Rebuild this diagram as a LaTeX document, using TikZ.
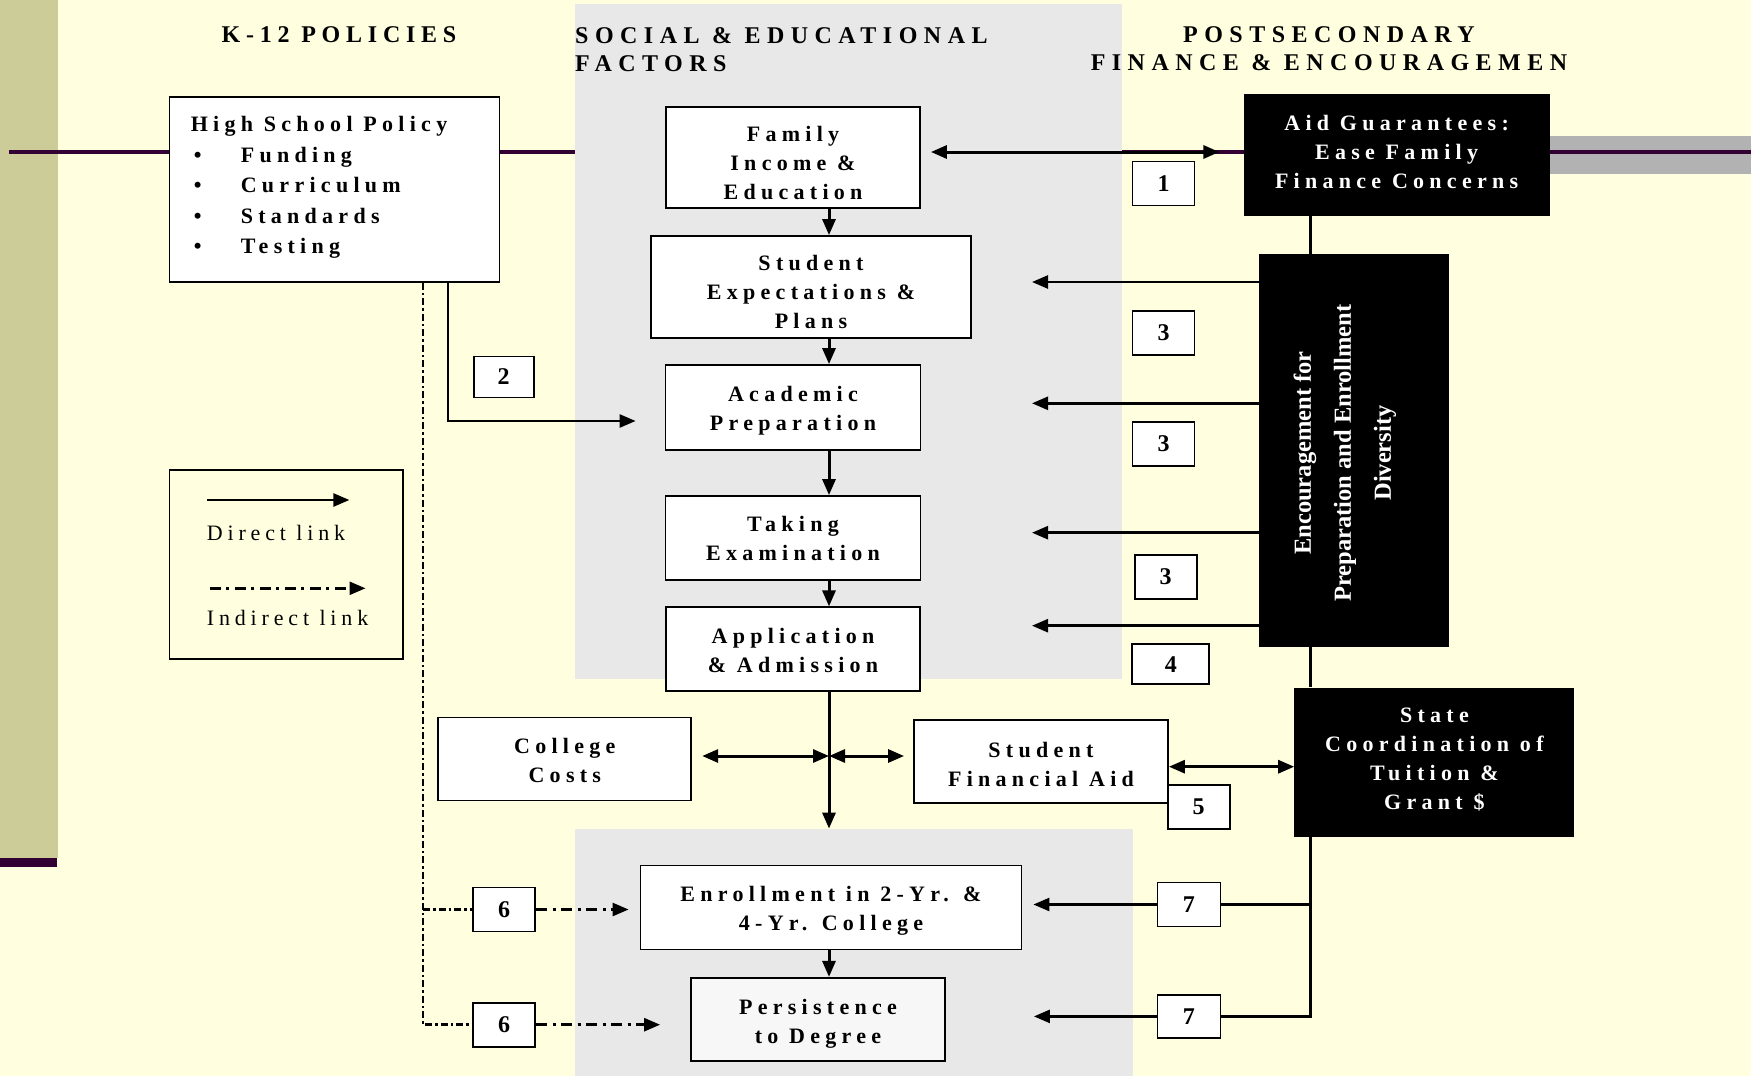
\documentclass[tikz,border=0pt]{standalone}
\usepackage{fontspec}
\setmainfont{Liberation Serif}
\newfontfamily\spfont[LetterSpace=24]{Liberation Serif}
\newfontfamily\hdfont[LetterSpace=27]{Liberation Serif}
\newfontfamily\lgfont[LetterSpace=22]{Liberation Serif}
\usetikzlibrary{arrows.meta}
\definecolor{bgyellow}{RGB}{255,255,224}
\definecolor{olivebar}{RGB}{204,204,153}
\definecolor{purpleline}{RGB}{51,0,51}
\definecolor{panelgray}{RGB}{232,232,232}
\definecolor{bandgray}{RGB}{178,178,178}
\definecolor{pergray}{RGB}{247,247,247}
\newcommand{\downby}[1]{\rule{0pt}{#1}}
\newcommand{\upby}[1]{\rule[-#1]{0pt}{0pt}}
\tikzset{
 box/.style={draw, line width=1.8pt, fill=white, inner sep=0pt, align=center,
   font=\spfont\bfseries\fontsize{22}{29}\selectfont},
 blk/.style={fill=black, text=white, inner sep=0pt, align=center,
   font=\spfont\bfseries\fontsize{22}{29}\selectfont},
 num/.style={draw, line width=1.8pt, fill=white, inner sep=0pt, minimum width=62pt,
   minimum height=44pt, font=\bfseries\fontsize{24}{24}\selectfont},
 head/.style={inner sep=0pt, font=\hdfont\bfseries\fontsize{24}{28}\selectfont},
 lgtext/.style={inner sep=0pt, font=\lgfont\fontsize{22}{26}\selectfont},
 arr/.style={line width=3pt, -{Triangle[length=16pt,width=13pt]}},
 arrE/.style={line width=2.5pt, -{Triangle[length=16pt,width=13pt]}},
 dbl/.style={line width=3pt, {Triangle[length=16pt,width=13pt]}-{Triangle[length=16pt,width=13pt]}},
 thinl/.style={line width=2.5pt},
 dd/.style={line width=2.8pt, dash pattern=on 7pt off 3pt on 2.5pt off 3pt},
 ddarr/.style={line width=2.5pt, dash pattern=on 11pt off 5.5pt on 3pt off 5.5pt,
   -{Triangle[length=16pt,width=13pt]}},
}
\begin{document}
\begin{tikzpicture}[x=1pt,y=-1pt]
\useasboundingbox (0,0) rectangle (1751,1076);
% background
\fill[bgyellow] (0,0) rectangle (1751,1076);
\fill[olivebar] (0,0) rectangle (58,858);
\fill[purpleline] (0,858) rectangle (57,867);
\fill[bandgray] (1549,136) rectangle (1751,174);
\draw[purpleline, line width=4pt] (9,152) -- (1751,152);
\fill[panelgray] (575,4) rectangle (1122,679);
\fill[panelgray] (575,829) rectangle (1133,1076);

% headings
\node[head, font=\spfont\bfseries\fontsize{24}{28}\selectfont] (h1) at (339,35) {K-12 POLICIES};
\node[head, anchor=north west, align=left] (h2) at (575,27) {SOCIAL \& EDUCATIONAL\\FACTORS};
\node[head, align=center] (h3) at (1329,49) {POSTSECONDARY\\FINANCE \& ENCOURAGEMEN};

% left column
\node[box, minimum width=330pt, minimum height=185pt] (hs) at (334.5,189.5) {};
\node[inner sep=0pt, anchor=north west, align=left,
   font=\spfont\bfseries\fontsize{22}{30.5}\selectfont] (hst) at (190.6,116.5)
  {High School Policy\\
   \hspace*{3pt}\makebox[47pt][l]{\textbullet}Funding\\
   \hspace*{3pt}\makebox[47pt][l]{\textbullet}Curriculum\\
   \hspace*{3pt}\makebox[47pt][l]{\textbullet}Standards\\
   \hspace*{3pt}\makebox[47pt][l]{\textbullet}Testing};

\node[draw, line width=1.8pt, minimum width=233.5pt, minimum height=189.3pt, inner sep=0pt]
  (lg) at (286.3,564.7) {};
\coordinate (d1) at (206.7,500);
\coordinate (d2) at (349.4,500);
\draw[arrE] (d1) -- (d2);
\node[lgtext, anchor=west] (dl) at (206.7,532.7) {Direct link};
\coordinate (i1) at (209.7,588.3);
\coordinate (i2) at (365.5,588.3);
\draw[ddarr] (i1) -- (i2);
\node[lgtext, anchor=west] (il) at (206.7,618.3) {Indirect link};

% middle column
\node[box, minimum width=254pt, minimum height=101pt] (fam) at (793,157.5) {\downby{26pt}Family\\Income \&\\Education};
\node[box, minimum width=320pt, minimum height=102pt] (stu) at (811,287) {\downby{26pt}Student\\Expectations \&\\Plans};
\node[box, minimum width=255pt, minimum height=85pt] (aca) at (793,407.5) {\downby{22pt}Academic\\Preparation};
\node[box, minimum width=255pt, minimum height=84pt] (tak) at (793,538) {Taking\\Examination};
\node[box, minimum width=254pt, minimum height=84pt] (app) at (793,649.3) {\downby{18pt}Application\\\& Admission};
\node[box, minimum width=253pt, minimum height=83pt] (cc) at (564.8,759) {\downby{18pt}College\\Costs};
\node[box, minimum width=254pt, minimum height=83pt] (sfa) at (1041,761.7) {\downby{20pt}Student\\Financial Aid};
\node[box, minimum width=381pt, minimum height=84pt] (enr) at (831,907.5) {\downby{22pt}Enrollment in 2-Yr. \&\\4-Yr. College};
\node[box, fill=pergray, minimum width=254pt, minimum height=83pt] (per) at (818,1019.3) {\downby{24pt}Persistence\\to Degree};

% right column
\node[blk, minimum width=306pt, minimum height=122pt] (aid) at (1396.6,154.9) {Aid Guarantees:\\Ease Family\\Finance Concerns\upby{6pt}};
\node[blk, minimum width=190pt, minimum height=393pt] (enc) at (1354,450.7) {};
\node[inner sep=0pt, rotate=90, text=white, align=center, font=\bfseries\fontsize{24.5}{40}\selectfont]
  (enct) at (1345,453) {Encouragement for\\Preparation and Enrollment\\Diversity};
\node[blk, minimum width=280pt, minimum height=149pt] (sta) at (1434.4,762.1) {State\\Coordination of\\Tuition \&\\Grant \$\upby{6pt}};

% number boxes
\node[num] (n1) at (1163.5,183.5) {1};
\node[num, minimum width=60pt, minimum height=41pt] (n2) at (503.7,376.9) {2};
\node[num] (n3a) at (1163.5,332.7) {3};
\node[num] (n3b) at (1163.5,443.7) {3};
\node[num] (n3c) at (1165.6,576.7) {3};
\node[num, minimum width=77pt, minimum height=40pt] (n4) at (1170.8,664.2) {4};
\node[num] (n5) at (1198.6,806.7) {5};
\node[num] (n6a) at (504.1,909.5) {6};
\node[num] (n6b) at (504.1,1024.7) {6};
\node[num, minimum width=63pt] (n7a) at (1188.9,904.5) {7};
\node[num, minimum width=63pt, minimum height=43pt] (n7b) at (1188.9,1016.4) {7};

% connectors
\coordinate (vx) at (829,0);
\coordinate (ya) at (0,152);
\draw[dbl, shorten <=10pt, shorten >=24pt] (fam.east |- ya) -- (aid.west |- ya);
\draw[arr] (fam.south -| vx) -- (stu.north -| vx);
\draw[arr] (stu.south -| vx) -- (aca.north -| vx);
\draw[arr] (aca.south -| vx) -- (tak.north -| vx);
\draw[arr] (tak.south -| vx) -- (app.north -| vx);
\draw[arr, shorten >=36pt] (app.south -| vx) -- (enr.north -| vx);
\draw[arr] (enr.south -| vx) -- (per.north -| vx);

\coordinate (yc) at (0,756);
\draw[dbl, shorten <=10pt] (cc.east |- yc) -- (vx |- yc);
\draw[dbl, shorten >=9pt] (vx |- yc) -- (sfa.west |- yc);
\coordinate (ys) at (0,766.7);
\draw[dbl] (sfa.east |- ys) -- (sta.west |- ys);

\coordinate (e1) at (1032,282);
\coordinate (e2) at (1032,403.3);
\coordinate (e3) at (1032,532.7);
\coordinate (e4) at (1032,625.7);
\draw[arrE] (enc.west |- e1) -- (e1);
\draw[arrE] (enc.west |- e2) -- (e2);
\draw[arrE] (enc.west |- e3) -- (e3);
\draw[arrE] (enc.west |- e4) -- (e4);

\coordinate (rx) at (1310.5,0);
\draw[line width=3.5pt] (aid.south -| rx) -- (enc.north -| rx);
\draw[line width=3.5pt] (enc.south -| rx) -- (sta.north -| rx);
\draw[thinl] (sta.south -| rx) |- (n7b.east);
\draw[thinl] (rx |- n7a) -- (n7a.east);
\draw[arrE, shorten >=11pt] (n7a.west) -- (enr.east |- n7a);
\draw[arrE, shorten >=88pt] (n7b.west) -- (per.east |- n7b);

\coordinate (hx) at (447.8,0);
\coordinate (hy) at (0,421);
\draw[arrE, shorten >=29pt] (hs.south -| hx) |- (aca.west |- hy);

\coordinate (dx) at (423,0);
\draw[dd] (hs.south -| dx) |- (n6b.west);
\draw[dd] (dx |- n6a) -- (n6a.west);
\draw[ddarr, shorten >=11pt] (n6a.east) -- (enr.west |- n6a);
\draw[ddarr, shorten >=30pt] (n6b.east) -- (per.west |- n6b);
\end{tikzpicture}
\end{document}
